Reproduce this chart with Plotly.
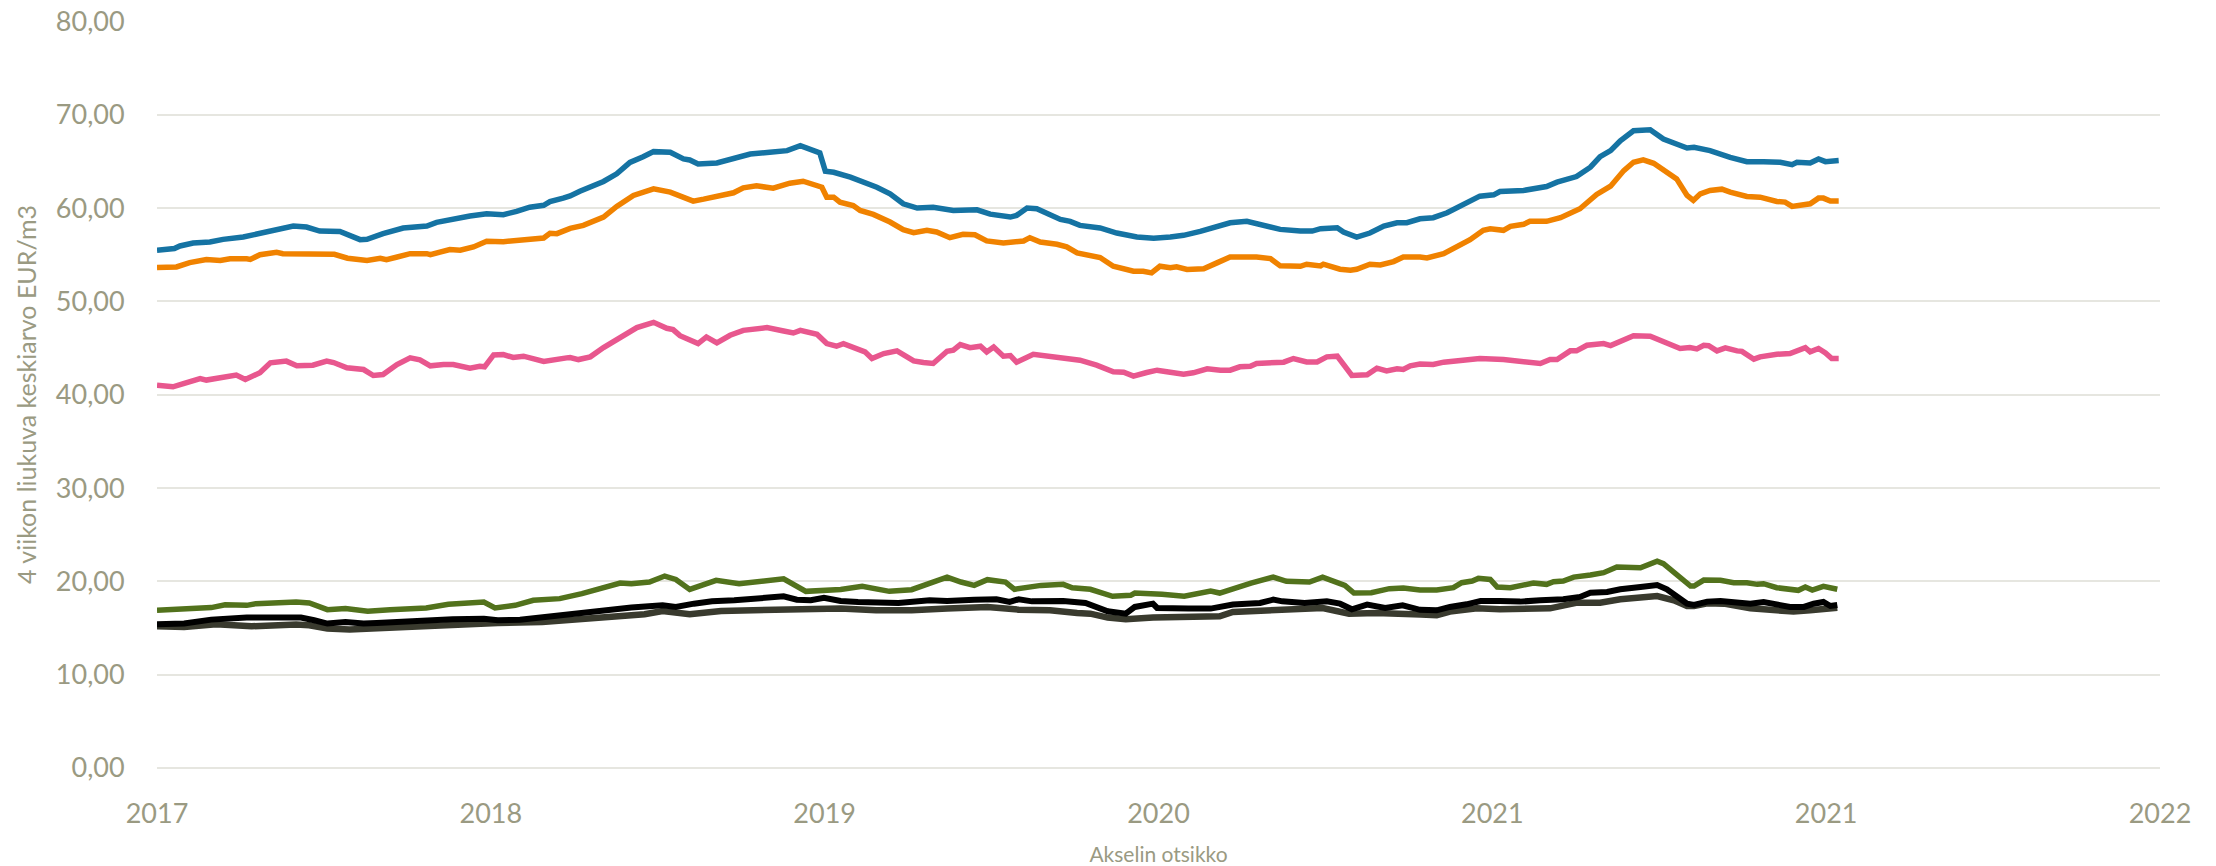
import plotly.graph_objects as go

# X positions are in weeks from the first axis tick; 48 weeks between labelled ticks
tick_weeks = [0, 48, 96, 144, 192, 240, 288]
tick_labels = ["2017", "2018", "2019", "2020", "2021", "2021", "2022"]

blue_w = [0, 2.5, 3.3, 5.2, 7.6, 9.5, 12.4, 14.8, 17.2, 19.6, 21.5, 23.4, 26.3, 27.8, 29.2, 30.2, 32.5, 35.4, 38.8, 40.2,
          43.1, 45, 47.4, 49.8, 51.7, 53.6, 55.6, 56.5, 58.4, 59.4, 60.8, 62.3, 64.2, 66.1, 68, 69.9, 71.4, 73.8, 75.7, 76.6,
          77.8, 80.5, 82.9, 85.3, 88.1, 90.6, 92.5, 94.9, 95.3, 96.1, 97.3, 99.7, 101.6, 103.5, 105.4, 107.3, 109.3, 111.6,
          114.5, 117.9, 119.8, 122.7, 123.6, 125.1, 126.5, 127.9, 129.9, 131.3, 132.7, 135.6, 138, 140.9, 143.3, 145.7,
          147.6, 150, 152.9, 154.3, 156.7, 158.6, 161.5, 164.4, 166.1, 167.3, 169.7, 170.6, 172.5, 174.4, 176.4, 178.3,
          179.7, 181.6, 183.5, 185.5, 187.4, 188.3, 190.2, 192.2, 193.1, 196.5, 198.4, 199.8, 201.3, 204.1, 206.1, 207.5,
          209, 210.4, 212.3, 214.7, 216.6, 218.5, 220, 221, 223.3, 226.2, 228.6, 231, 233.4, 235.1, 235.8, 237.7, 238.9,
          239.9, 241.8]
blue_v = [55.48, 55.66, 55.94, 56.26, 56.37, 56.65, 56.9, 57.33, 57.79, 58.08, 57.97, 57.54, 57.5, 57.08, 56.62, 56.65,
          57.26, 57.86, 58.08, 58.47, 58.93, 59.15, 59.4, 59.3, 59.64, 60.1, 60.3, 60.7, 61.07, 61.3, 61.8, 62.31, 62.85,
          63.67, 64.9, 65.5, 66.05, 65.98, 65.27, 65.16, 64.73, 64.84, 65.37, 65.8, 65.98, 66.16, 66.69, 66.09, 65.91, 63.95,
          63.84, 63.31, 62.78, 62.24, 61.53, 60.46, 60.0, 60.1, 59.75, 59.82, 59.35, 59.04, 59.22, 60.0, 59.93, 59.5, 58.79,
          58.58, 58.15, 57.87, 57.33, 56.9, 56.76, 56.9, 57.08, 57.5, 58.15, 58.43, 58.58, 58.26, 57.72, 57.54, 57.54, 57.79,
          57.9, 57.44, 56.9, 57.33, 58.08, 58.43, 58.43, 58.85, 58.97, 59.5, 60.28, 60.57, 61.28, 61.42, 61.78, 61.89, 62.14,
          62.31, 62.78, 63.38, 64.38, 65.52, 66.16, 67.22, 68.29, 68.4, 67.4, 66.8, 66.44, 66.51, 66.16, 65.44, 64.98, 64.98,
          64.91, 64.66, 64.91, 64.84, 65.27, 64.98, 65.09]

orange_w = [0, 2.8, 4.7, 7.1, 9.1, 10.5, 12.9, 13.4, 14.8, 17.2, 18.1, 21.9, 22.6, 25.5, 27.4, 30.2, 32.1, 33, 34.4, 36.4,
            38.8, 39.3, 42.1, 43.6, 45.5, 47.4, 49.8, 52.7, 55.6, 56.5, 57.5, 59.4, 61.3, 64.2, 66.1, 68.5, 71.4, 73.8, 75.2,
            77.1, 78.6, 81, 82.9, 84.3, 86.2, 88.6, 91, 92.9, 94.9, 95.6, 96.3, 97.3, 98.2, 100.1, 101.1, 103, 105.4, 107.3,
            108.8, 110.7, 112.1, 114, 115.9, 117.6, 119.3, 120.5, 121.7, 124.6, 125.5, 127, 128.4, 129.4, 130.8, 132.3,
            135.6, 137.5, 140.4, 141.8, 143, 144.2, 145.7, 146.6, 148.1, 150.5, 152.4, 154.3, 158.1, 160.1, 161.5, 164.4,
            165.3, 167.3, 167.7, 170.1, 171.6, 172.5, 174.4, 175.9, 177.8, 179.2, 181.6, 182.6, 185, 187.4, 188.8, 190.7,
            191.7, 193.6, 194.6, 196.5, 197.4, 199.8, 201.8, 204.6, 207, 209, 210.9, 212.3, 213.7, 215.2, 217.1, 218.5, 220,
            220.9, 221.9, 223.3, 225, 226.2, 228.6, 230.5, 232.9, 234.1, 235.1, 237.7, 238.9, 239.6, 240.6, 241.8]
orange_v = [53.63, 53.7, 54.16, 54.48, 54.38, 54.56, 54.56, 54.5, 55.0, 55.27, 55.12, 55.09, 54.98, 55.05, 54.63, 54.38,
            54.63, 54.48, 54.73, 55.12, 55.12, 55.02, 55.55, 55.48, 55.84, 56.44, 56.4, 56.62, 56.8, 57.3, 57.26, 57.83,
            58.15, 59.04, 60.18, 61.35, 62.06, 61.71, 61.35, 60.75, 60.96, 61.28, 61.64, 62.17, 62.38, 62.14, 62.67, 62.88,
            62.38, 62.24, 61.17, 61.17, 60.64, 60.28, 59.75, 59.32, 58.51, 57.69, 57.37, 57.62, 57.44, 56.83, 57.19, 57.15,
            56.48, 56.35, 56.26, 56.48, 56.83, 56.37, 56.3, 56.12, 55.84, 55.2, 54.7, 53.77, 53.24, 53.24, 53.06, 53.77,
            53.6, 53.7, 53.42, 53.49, 54.13, 54.77, 54.77, 54.59, 53.81, 53.77, 53.99, 53.81, 53.99, 53.45, 53.35, 53.45,
            53.99, 53.91, 54.27, 54.77, 54.75, 54.66, 55.12, 56.01, 56.62, 57.62, 57.79, 57.62, 58.04, 58.26, 58.58, 58.58,
            58.97, 59.93, 61.46, 62.35, 64.02, 64.91, 65.16, 64.8, 63.74, 63.13, 61.35, 60.82, 61.53, 61.89, 62.03, 61.71,
            61.25, 61.17, 60.71, 60.64, 60.18, 60.46, 61.07, 61.07, 60.75, 60.75]

pink_w = [0, 2.3, 3.8, 6.2, 7.1, 9.1, 11, 11.4, 12.7, 14.8, 16.3, 18.6, 20.1, 22.4, 24.4, 25.4, 27.3, 29.7, 31.1, 32.5,
          34.5, 36.4, 37.8, 39.3, 41.2, 42.6, 45, 46.4, 47.1, 48.4, 49.8, 51.2, 52.7, 54.1, 55.6, 58.9, 59.4, 60.6, 62.3,
          64.2, 66.6, 69, 71.4, 73.3, 74.2, 75.2, 77.8, 79, 80.5, 82.4, 84.3, 86.2, 87.7, 90.1, 91.5, 92.5, 94.9, 96.3, 97.7,
          98.7, 101.1, 101.8, 102.8, 104.5, 106.4, 108.8, 110.2, 111.6, 113.6, 114.5, 115.5, 116.9, 118.4, 119.3, 120.3,
          121.7, 122.7, 123.6, 126, 128.4, 129.4, 130.8, 132.7, 135.1, 137.5, 139, 140.4, 142.3, 143.8, 145.2, 147.6, 149,
          151, 152.9, 154.3, 155.7, 157.2, 158.1, 160.5, 162, 163.4, 165.3, 166.8, 168.2, 169.7, 171.8, 174, 175.4, 176.8,
          178.3, 179.2, 180.2, 181.6, 183.5, 185, 186.9, 190.2, 193.6, 196.5, 198.9, 200.3, 201.3, 203.2, 204.1, 205.6, 208,
          209, 210.9, 212.3, 214.7, 216.6, 217.6, 219, 220.4, 221.4, 222.4, 223.1, 224.3, 225.5, 227.2, 227.9, 229.6, 230.5,
          232.9, 234.8, 237, 237.7, 238.9, 239.9, 240.8, 241.8]
pink_v = [41.03, 40.85, 41.2, 41.74, 41.57, 41.85, 42.1, 42.1, 41.64, 42.35, 43.42, 43.6, 43.1, 43.17, 43.6, 43.45, 42.88,
          42.7, 42.06, 42.17, 43.24, 43.95, 43.74, 43.1, 43.24, 43.24, 42.85, 43.06, 42.99, 44.27, 44.3, 43.99, 44.13, 43.84,
          43.56, 43.95, 43.99, 43.77, 44.06, 45.05, 46.12, 47.19, 47.76, 47.12, 46.98, 46.33, 45.48, 46.19, 45.55, 46.37,
          46.9, 46.98, 47.19, 46.83, 46.62, 46.9, 46.48, 45.48, 45.2, 45.48, 44.77, 44.6, 43.88, 44.41, 44.7, 43.63, 43.45,
          43.35, 44.66, 44.77, 45.37, 45.05, 45.2, 44.59, 45.12, 44.13, 44.2, 43.49, 44.34, 44.06, 44.06, 43.81, 43.7, 43.17,
          42.46, 42.42, 41.99, 42.38, 42.63, 42.46, 42.2, 42.35, 42.78, 42.63, 42.63, 42.99, 43.06, 43.35, 43.52, 43.49,
          43.88, 43.52, 43.52, 44.06, 44.13, 42.06, 42.14, 42.85, 42.56, 42.78, 42.7, 43.1, 43.3, 43.24, 43.49, 43.6, 43.88,
          43.77, 43.52, 43.35, 43.77, 43.77, 44.7, 44.7, 45.3, 45.48, 45.27, 45.84, 46.33, 46.26, 45.66, 45.48, 44.95, 45.05,
          44.91, 45.3, 45.25, 44.7, 45.02, 44.7, 44.65, 43.81, 44.06, 44.34, 44.41, 45.05, 44.59, 44.95, 44.48, 43.88, 43.88]

green_w = [0, 3.9, 7.8, 9.8, 12.9, 14.2, 16.8, 20, 21.9, 24.5, 27.1, 30.3, 33.5, 38.7, 41.9, 47, 48.6, 51.5, 54.1, 57.9,
           61.1, 64.3, 66.6, 68.2, 70.8, 73, 74.6, 76.6, 78.5, 80.4, 83.7, 86.2, 88.1, 90.1, 93.3, 95.8, 98.3, 101.4, 105.3,
           108.5, 111.7, 113.6, 115.6, 117.5, 119.4, 122, 123.3, 127.1, 130.3, 131.6, 134.2, 137.4, 140, 140.6, 144.5,
           147.7, 151.5, 152.8, 157.3, 160.5, 162.4, 165.7, 167.6, 170.8, 172.1, 174.6, 177.2, 179.2, 181.6, 184, 186.4,
           187.6, 189.1, 190, 191.7, 192.7, 194.6, 197.9, 199.8, 200.8, 202.2, 203.7, 206.1, 208, 209.9, 211.3, 213.3,
           215.7, 216.6, 220.5, 221, 222.4, 224.8, 226.7, 228.6, 230.1, 231, 232.9, 234.4, 236, 237, 238, 239.6, 241.6]
green_v = [16.9, 17.0, 17.19, 17.5, 17.43, 17.61, 17.68, 17.79, 17.68, 16.97, 17.08, 16.79, 16.97, 17.15, 17.54, 17.79,
           17.15, 17.43, 17.97, 18.15, 18.68, 19.32, 19.82, 19.75, 19.93, 20.57, 20.21, 19.14, 19.68, 20.11, 19.75, 19.93,
           20.18, 20.28, 18.93, 18.97, 19.13, 19.47, 18.93, 19.11, 20.0, 20.46, 19.93, 19.57, 20.18, 19.93, 19.15, 19.57,
           19.68, 19.32, 19.15, 18.4, 18.5, 18.75, 18.61, 18.4, 18.97, 18.75, 19.82, 20.46, 20.0, 19.93, 20.46, 19.57,
           18.75, 18.79, 19.22, 19.3, 19.07, 19.07, 19.32, 19.86, 20.04, 20.32, 20.21, 19.39, 19.32, 19.82, 19.68, 19.96,
           20.04, 20.46, 20.68, 20.93, 21.53, 21.46, 21.46, 22.17, 21.89, 19.5, 19.5, 20.14, 20.11, 19.86, 19.86, 19.68,
           19.75, 19.32, 19.22, 19.04, 19.39, 19.07, 19.47, 19.15]

black_w = [0, 3.9, 7.8, 12.9, 16.8, 20.7, 22.6, 24.5, 27.1, 29.7, 31.6, 36.1, 42.5, 47, 49, 52.2, 55.4, 58.6, 61.8, 65,
           68.2, 72.7, 74.6, 77.2, 79.8, 83, 86.2, 88.8, 90.1, 92, 94, 95.9, 98.3, 100.8, 106.6, 111.1, 113.6, 117.5, 120.7,
           122.6, 123.9, 125.8, 130.3, 133.5, 136.7, 139.3, 140.6, 143.2, 143.8, 148.3, 151.5, 154.7, 158.6, 160.5, 161.8,
           165, 168.2, 170.1, 171.8, 174, 176.6, 179.1, 181.6, 184, 185.9, 188.3, 190.3, 193.1, 196, 198.9, 202.2, 204.6,
           206.1, 208.5, 210.4, 213.3, 215.7, 217.1, 220, 221, 222.9, 224.8, 226.7, 229.1, 231, 232.9, 234.8, 236.8, 238.2,
           239.6, 240.6, 241.6]
black_v = [15.4, 15.48, 15.9, 16.12, 16.12, 16.12, 15.83, 15.48, 15.65, 15.48, 15.55, 15.73, 15.94, 16.0, 15.83, 15.9,
           16.19, 16.37, 16.62, 16.9, 17.19, 17.43, 17.26, 17.61, 17.86, 17.97, 18.15, 18.4, 18.4, 18.04, 17.97, 18.25,
           17.9, 17.79, 17.68, 17.97, 17.9, 18.04, 18.08, 17.79, 18.08, 17.86, 17.9, 17.68, 16.79, 16.54, 17.26, 17.61,
           17.15, 17.08, 17.08, 17.51, 17.68, 18.04, 17.86, 17.68, 17.86, 17.61, 17.01, 17.51, 17.15, 17.43, 16.95, 16.9,
           17.26, 17.54, 17.9, 17.9, 17.83, 17.97, 18.08, 18.33, 18.79, 18.86, 19.15, 19.39, 19.61, 19.15, 17.61, 17.47,
           17.83, 17.9, 17.72, 17.61, 17.79, 17.47, 17.26, 17.26, 17.61, 17.79, 17.36, 17.47]

grey_w = [0, 3.9, 8.5, 13.6, 20, 21.9, 24.5, 27.7, 30.9, 36.1, 42.5, 49, 55.4, 60.5, 65.6, 70.1, 72.7, 76.6, 81.1, 86.2,
          90.1, 94, 98.3, 103.4, 108.5, 113.6, 119.4, 123.9, 128.4, 132.3, 134.2, 136.7, 139.3, 143.2, 148.3, 152.8, 154.7,
          159.9, 167.6, 171.4, 175.3, 181.7, 184, 185.9, 189.8, 193.1, 196.5, 200.3, 204.2, 207.5, 210.4, 213.3, 215.7,
          218.1, 220, 221, 222.9, 225.3, 229.1, 232.9, 235.3, 237.7, 239.6, 241.6]
grey_v = [15.19, 15.12, 15.4, 15.19, 15.37, 15.3, 14.94, 14.83, 14.94, 15.12, 15.4, 15.55, 15.65, 15.9, 16.26, 16.47,
          16.83, 16.47, 16.83, 16.9, 16.9, 17.08, 17.1, 16.9, 16.9, 17.08, 17.26, 16.97, 16.9, 16.62, 16.54, 16.12, 15.94,
          16.12, 16.26, 16.26, 16.72, 16.83, 17.15, 16.54, 16.62, 16.45, 16.37, 16.76, 17.11, 17.0, 17.11, 17.11, 17.72,
          17.72, 18.08, 18.33, 18.43, 17.97, 17.36, 17.36, 17.65, 17.61, 17.11, 16.9, 16.76, 16.9, 17.11, 17.18]

series = [
    ("Sininen", blue_w, blue_v, "#1573A3", 5.5),
    ("Oranssi", orange_w, orange_v, "#F08200", 5.5),
    ("Pinkki", pink_w, pink_v, "#E8578E", 5.5),
    ("Vihreä", green_w, green_v, "#52721C", 5.5),
    ("Harmaa", grey_w, grey_v, "#393A2E", 6.5),
    ("Musta", black_w, black_v, "#000000", 6),
]

fig = go.Figure()
for name, xs, ys, color, width in series:
    fig.add_trace(go.Scatter(x=xs, y=ys, mode="lines", name=name,
                             line=dict(color=color, width=width)))

axis_font = dict(family="Lato, 'Open Sans', sans-serif", size=27, color="#9A9A82")

fig.update_layout(
    width=2216, height=866,
    margin=dict(l=157, r=56, t=21, b=98, autoexpand=False),
    paper_bgcolor="white", plot_bgcolor="white",
    showlegend=False,
    separators=", ",
    font=dict(family="Lato, 'Open Sans', sans-serif", color="#9A9A82"),
)
fig.update_xaxes(
    range=[0, 288], tickvals=tick_weeks, ticktext=tick_labels,
    showgrid=False, zeroline=False, showline=False, automargin=False,
    ticks="outside", ticklen=22, tickcolor="rgba(0,0,0,0)",
    tickfont=axis_font, ticklabeloverflow="allow",
    title=dict(text="Akselin otsikko", font=dict(size=21, color="#9A9A82"), standoff=18),
)
fig.update_yaxes(
    range=[0, 80.05], tick0=0, dtick=10, tickformat=".2f",
    showgrid=True, gridcolor="#E6E6E0", gridwidth=2,
    zeroline=True, zerolinecolor="#E6E6E0", zerolinewidth=2,
    showline=False, automargin=False,
    ticks="outside", ticklen=26, tickcolor="rgba(0,0,0,0)",
    tickfont=axis_font, ticklabeloverflow="allow",
    title=dict(text="4 viikon liukuva keskiarvo EUR/m3", font=dict(size=25, color="#9A9A82"), standoff=12),
)

# remove the browser's default page margin so the figure fills the window exactly
fig.write_html("out.html", config={"displayModeBar": False},
               post_script="document.body.style.margin='0';document.body.style.overflow='hidden';")
